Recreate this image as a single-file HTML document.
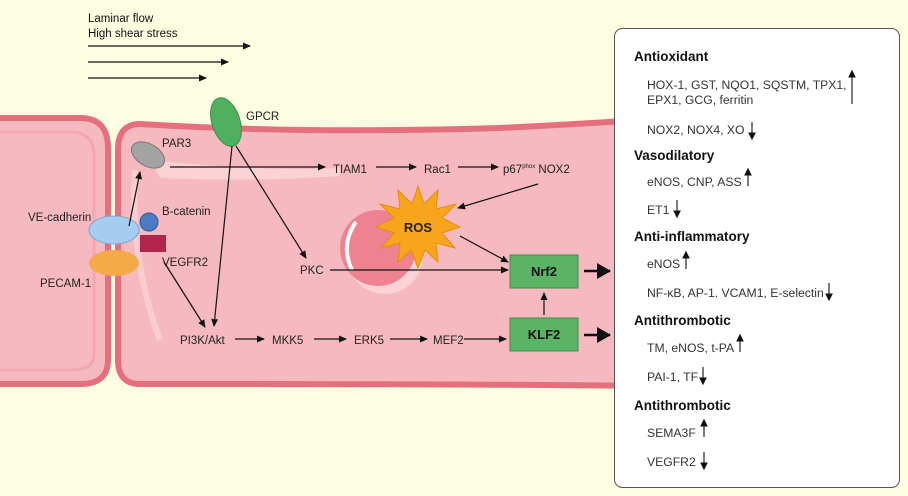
<!DOCTYPE html>
<html><head><meta charset="utf-8"><style>
body{margin:0;background:#fdfde2;}
svg{display:block;font-family:"Liberation Sans",sans-serif;}
</style></head><body>
<svg width="908" height="496" viewBox="0 0 908 496" xmlns="http://www.w3.org/2000/svg">
<defs>
<marker id="a" markerWidth="8" markerHeight="8" refX="7" refY="4" orient="auto" markerUnits="userSpaceOnUse"><path d="M0,0.5 L8,4 L0,7.5z" fill="#111"/></marker>
<marker id="b" markerWidth="14" markerHeight="16" refX="13" refY="8" orient="auto" markerUnits="userSpaceOnUse"><path d="M0,0 L14,8 L0,16z" fill="#111"/></marker>
</defs>
<rect width="908" height="496" fill="#fdfde2"/>
<text x="88" y="22" font-size="11.5" fill="#111">Laminar flow</text>
<text x="88" y="37" font-size="11.5" fill="#111">High shear stress</text>
<g stroke="#111" stroke-width="1.2" marker-end="url(#a)">
<line x1="88" y1="46" x2="250" y2="46"/><line x1="88" y1="62" x2="228" y2="62"/><line x1="88" y1="78" x2="206" y2="78"/></g>
<path d="M-10,118 L80,118 Q108,118 108,148 L108,360 Q108,384 80,384 L-10,384z" fill="#f6b9bf" stroke="#e66f7d" stroke-width="6"/>
<path d="M-10,132 L70,132 Q94,132 94,155 L94,355 Q94,370 70,370 L-10,370" fill="none" stroke="#f19ba5" stroke-width="3" opacity=".6"/>
<path d="M140,124 Q300,134 500,128 Q580,124 640,120 L640,386 Q500,384 140,384 Q118,384 118,360 L118,150 Q118,124 140,124z" fill="#f6b9bf" stroke="#e66f7d" stroke-width="6"/>
<path d="M150,160 Q260,172 340,168 L340,176 Q260,182 160,178z" fill="#fbd7da" opacity=".8"/>
<path d="M135,170 Q130,260 160,340" fill="none" stroke="#fbd5d8" stroke-width="6" opacity=".7"/>
<circle cx="385" cy="256" r="38" fill="#fbd3d6"/>
<circle cx="378" cy="248" r="38" fill="#ef8290"/>
<path d="M356,222 Q340,245 352,270" stroke="#fff" stroke-width="4" fill="none"/>
<ellipse cx="148" cy="155" rx="18" ry="11" transform="rotate(30 148 155)" fill="#a3a3a3" stroke="#777"/>
<ellipse cx="226" cy="122" rx="14" ry="25" transform="rotate(-18 226 122)" fill="#4fb160" stroke="#3b8c49"/>
<ellipse cx="114" cy="230" rx="25" ry="14" fill="#a4cdf0" stroke="#7aa8d0"/>
<ellipse cx="114" cy="263" rx="25" ry="13" fill="#f4aa48"/>
<circle cx="149" cy="222" r="9" fill="#4a7bc4" stroke="#2f5a9a"/>
<rect x="140" y="235" width="26" height="17" fill="#b2264d"/>
<g font-size="11.5" fill="#222">
<text x="246" y="120">GPCR</text><text x="162" y="147">PAR3</text>
<text x="28" y="221">VE-cadherin</text><text x="40" y="287">PECAM-1</text>
<text x="162" y="215">B-catenin</text><text x="162" y="266">VEGFR2</text>
<text x="333" y="173">TIAM1</text><text x="424" y="173">Rac1</text>
<text x="503" y="173">p67<tspan font-size="6" dy="-5">phox</tspan><tspan dy="5"> NOX2</tspan></text>
<text x="300" y="274">PKC</text>
<text x="180" y="344">PI3K/Akt</text><text x="272" y="344">MKK5</text><text x="354" y="344">ERK5</text><text x="433" y="344">MEF2</text>
</g>
<polygon fill="#f7a51c" stroke="#e88d00" points="418,186 424,204 438,190 436,209 456,204 442,218 460,227 442,233 455,248 436,243 438,262 425,250 418,268 411,250 398,262 400,243 381,248 394,233 376,227 394,218 380,204 400,209 398,190 412,204"/>
<text x="418" y="232" font-size="13" font-weight="bold" text-anchor="middle" fill="#222">ROS</text>
<g stroke="#111" stroke-width="1.2" fill="none" marker-end="url(#a)">
<line x1="129" y1="226" x2="140" y2="172"/>
<line x1="170" y1="167" x2="325" y2="167"/>
<line x1="376" y1="167" x2="416" y2="167"/>
<line x1="458" y1="167" x2="498" y2="167"/>
<line x1="538" y1="184" x2="458" y2="208"/>
<line x1="460" y1="236" x2="508" y2="262"/>
<line x1="330" y1="270" x2="508" y2="270"/>
<line x1="236" y1="146" x2="306" y2="258"/>
<line x1="232" y1="146" x2="214" y2="326"/>
<line x1="164" y1="262" x2="205" y2="327"/>
<line x1="235" y1="339" x2="264" y2="339"/>
<line x1="314" y1="339" x2="346" y2="339"/>
<line x1="390" y1="339" x2="427" y2="339"/>
<line x1="464" y1="339" x2="506" y2="339"/>
<line x1="544" y1="315" x2="544" y2="293"/>
</g>
<g stroke="#111" stroke-width="2.5" marker-end="url(#b)">
<line x1="584" y1="271" x2="610" y2="271"/><line x1="584" y1="335" x2="610" y2="335"/></g>
<rect x="510" y="255" width="68" height="33" fill="#5bb463" stroke="#3e8f48"/>
<rect x="510" y="318" width="68" height="33" fill="#5bb463" stroke="#3e8f48"/>
<text x="544" y="276" font-size="13" font-weight="bold" text-anchor="middle" fill="#111">Nrf2</text>
<text x="544" y="339" font-size="13" font-weight="bold" text-anchor="middle" fill="#111">KLF2</text>
<rect x="614.5" y="28.5" width="285" height="459" rx="8" fill="#fff" stroke="#555"/>
<g font-size="13.5" font-weight="bold" fill="#111">
<text x="634" y="61">Antioxidant</text><text x="634" y="160">Vasodilatory</text><text x="634" y="241">Anti-inflammatory</text>
<text x="634" y="325">Antithrombotic</text><text x="634" y="410">Antithrombotic</text></g>
<g font-size="12.2" fill="#333">
<text x="647" y="89">HOX-1, GST, NQO1, SQSTM, TPX1,</text><text x="647" y="104">EPX1, GCG, ferritin</text>
<text x="647" y="134">NOX2, NOX4, XO</text>
<text x="647" y="186">eNOS, CNP, ASS</text><text x="647" y="214">ET1</text>
<text x="647" y="268">eNOS</text><text x="647" y="297">NF-κB, AP-1. VCAM1, E-selectin</text>
<text x="647" y="352">TM, eNOS, t-PA</text><text x="647" y="381">PAI-1, TF</text>
<text x="647" y="437">SEMA3F</text><text x="647" y="466">VEGFR2</text></g>
<g stroke="#111" stroke-width="1.1">
<line x1="852" y1="74" x2="852" y2="104"/><path d="M849,77 L852,71 L855,77z" fill="#111"/>
<line x1="752" y1="122" x2="752" y2="136"/><path d="M749,133 L752,139 L755,133z" fill="#111"/>
<line x1="748" y1="172" x2="748" y2="186"/><path d="M745,175 L748,169 L751,175z" fill="#111"/>
<line x1="677" y1="200" x2="677" y2="214"/><path d="M674,211 L677,217 L680,211z" fill="#111"/>
<line x1="686" y1="255" x2="686" y2="269"/><path d="M683,258 L686,252 L689,258z" fill="#111"/>
<line x1="829" y1="283" x2="829" y2="297"/><path d="M826,294 L829,300 L832,294z" fill="#111"/>
<line x1="740" y1="338" x2="740" y2="352"/><path d="M737,341 L740,335 L743,341z" fill="#111"/>
<line x1="703" y1="367" x2="703" y2="381"/><path d="M700,378 L703,384 L706,378z" fill="#111"/>
<line x1="704" y1="423" x2="704" y2="437"/><path d="M701,426 L704,420 L707,426z" fill="#111"/>
<line x1="704" y1="452" x2="704" y2="466"/><path d="M701,463 L704,469 L707,463z" fill="#111"/>
</g>
</svg>
</body></html>
